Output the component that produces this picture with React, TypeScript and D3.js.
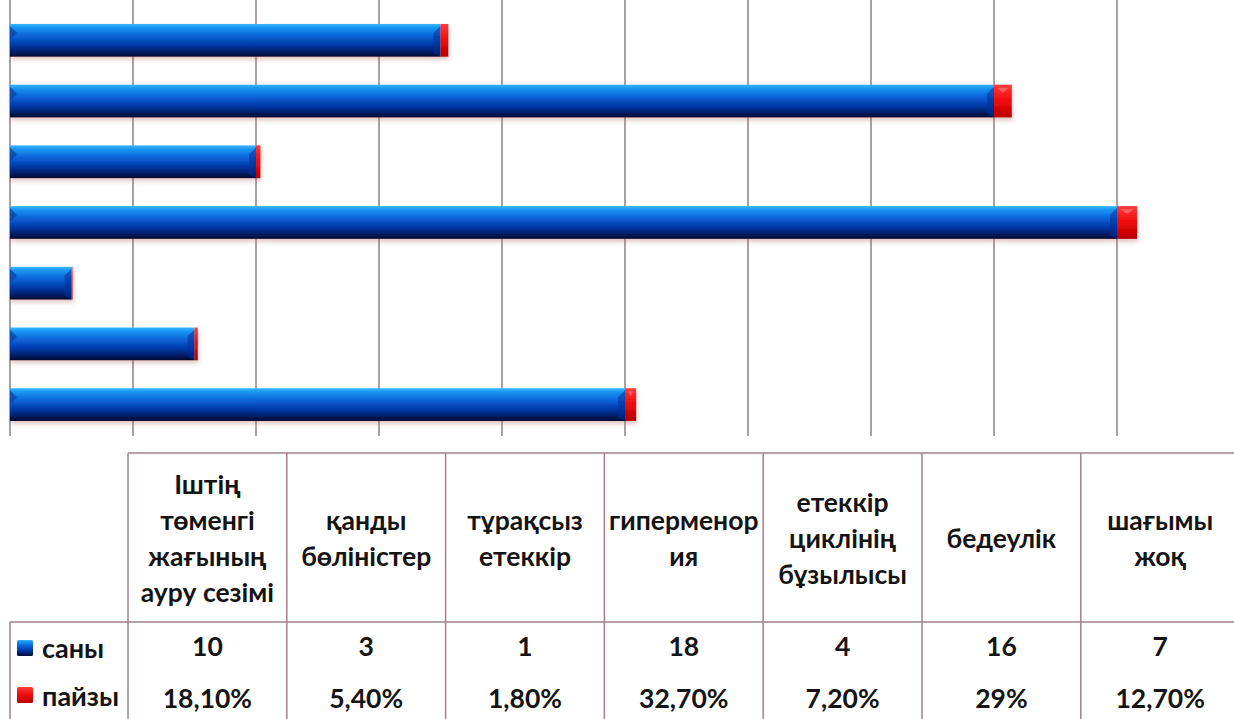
import React from "react";
import * as d3 from "d3";

const categories = [
  "Іштің төменгі жағының ауру сезімі",
  "қанды бөліністер",
  "тұрақсыз етеккір",
  "гиперменорея",
  "етеккір циклінің бұзылысы",
  "бедеулік",
  "шағымы жоқ",
];
const headerLines = [
  ["Іштің", "төменгі", "жағының", "ауру сезімі"],
  ["қанды", "бөліністер"],
  ["тұрақсыз", "етеккір"],
  ["гиперменор", "ия"],
  ["етеккір", "циклінің", "бұзылысы"],
  ["бедеулік"],
  ["шағымы", "жоқ"],
];
const sany = [10, 3, 1, 18, 4, 16, 7];
const payzy = [0.181, 0.054, 0.018, 0.327, 0.072, 0.29, 0.127];
const payzyLabels = ["18,10%", "5,40%", "1,80%", "32,70%", "7,20%", "29%", "12,70%"];
const seriesNames = ["саны", "пайзы"];
const xTicks = [0, 2, 4, 6, 8, 10, 12, 14, 16, 18, 20];

const W = 1234;
const H = 719;
const FONT = "Lato, 'Open Sans', sans-serif";

export default function App() {
  const x = d3.scaleLinear().domain([0, 20]).range([10, 1240]);
  const y = d3
    .scaleBand<string>()
    .domain([...categories].reverse())
    .range([10, 435])
    .paddingInner(0.46)
    .paddingOuter(0.23);

  const tableLeft = 128;
  const tableTop = 453;
  const headerBottom = 622;
  const colW = 158.8;
  const col = d3
    .scaleBand<string>()
    .domain(categories)
    .range([tableLeft, tableLeft + colW * categories.length]);
  const lineColor = "#a3808a";
  const gridColor = "#8c8284";
  const textColor = "#141414";

  const bh = y.bandwidth();

  return (
    <svg
      width={W}
      height={H}
      style={{ position: "absolute", left: 0, top: 0, background: "#fff" }}
      fontFamily={FONT}
    >
      <defs>
        <linearGradient id="blueG" x1="0" y1="0" x2="0" y2="1">
          <stop offset="0%" stopColor="#35b6ff" />
          <stop offset="12%" stopColor="#1a94f2" />
          <stop offset="38%" stopColor="#0860d6" />
          <stop offset="65%" stopColor="#0438a6" />
          <stop offset="85%" stopColor="#021d66" />
          <stop offset="100%" stopColor="#000a2e" />
        </linearGradient>
        <linearGradient id="redG" x1="0" y1="0" x2="0" y2="1">
          <stop offset="0%" stopColor="#ff3a3a" />
          <stop offset="50%" stopColor="#ee0a0a" />
          <stop offset="100%" stopColor="#b80000" />
        </linearGradient>
        <filter id="shadow" x="-5%" y="-30%" width="110%" height="180%">
          <feDropShadow dx="1" dy="3" stdDeviation="2" floodColor="#b06060" floodOpacity="0.35" />
        </filter>
      </defs>
      <rect x={0} y={0} width={W} height={H} fill="#fff" />

      {/* gridlines */}
      {xTicks.map((t) => (
        <line
          key={t}
          x1={x(t)}
          x2={x(t)}
          y1={0}
          y2={436}
          stroke={gridColor}
          strokeWidth={1.5}
        />
      ))}

      {/* bars */}
      {categories.map((c, i) => {
        const y0 = y(c)!;
        const xb0 = x(0);
        const xb1 = x(sany[i]);
        const xr1 = x(sany[i] + payzy[i]);
        return (
          <g key={c} filter="url(#shadow)">
            <rect x={xb0} y={y0} width={xb1 - xb0} height={bh} fill="url(#blueG)" />
            <polygon
              points={`${xb0},${y0 + 2} ${xb0 + 7},${y0 + 9} ${xb0},${y0 + 16}`}
              fill="#0a3f9e"
              opacity={0.7}
            />
            <polygon
              points={`${xb1},${y0 + 2} ${xb1 - 7},${y0 + 9} ${xb1 - 7},${y0 + bh - 4} ${xb1},${y0 + bh}`}
              fill="#06309a"
              opacity={0.55}
            />
            <rect x={xb1} y={y0} width={xr1 - xb1} height={bh} fill="url(#redG)" />
            {xr1 - xb1 > 8 && (
              <polygon
                points={`${xb1 + 3},${y0 + 3} ${xr1 - 3},${y0 + 3} ${(xb1 + xr1) / 2},${y0 + 8}`}
                fill="#ff8080"
                opacity={0.6}
              />
            )}
          </g>
        );
      })}

      {/* table lines */}
      <line x1={tableLeft} x2={W} y1={tableTop} y2={tableTop} stroke={lineColor} strokeWidth={1.5} />
      <line x1={10} x2={W} y1={headerBottom} y2={headerBottom} stroke={lineColor} strokeWidth={1.5} />
      <line x1={10} x2={10} y1={headerBottom} y2={H} stroke={lineColor} strokeWidth={1.5} />
      {categories.map((c) => (
        <line
          key={c}
          x1={col(c)!}
          x2={col(c)!}
          y1={tableTop}
          y2={H}
          stroke={lineColor}
          strokeWidth={1.5}
        />
      ))}

      {/* header texts */}
      {categories.map((c, i) => {
        const lines = headerLines[i];
        const pitch = 36;
        const cx = col(c)! + col.bandwidth() / 2;
        const mid = 539;
        return (
          <text
            key={c}
            x={cx}
            textAnchor="middle"
            fontSize={26.5}
            fontWeight={700}
            fill={textColor}
          >
            {lines.map((l, k) => (
              <tspan key={k} x={cx} y={mid + (k - (lines.length - 1) / 2) * pitch + 9}>
                {l}
              </tspan>
            ))}
          </text>
        );
      })}

      {/* legend keys and row labels */}
      <rect x={17} y={640} width={16} height={16} fill="url(#blueG)" rx={1.5} />
      <rect x={17} y={687} width={16} height={16} fill="url(#redG)" rx={1.5} />
      <text x={42} y={658} fontSize={27} fontWeight={700} fill={textColor}>
        {seriesNames[0]}
      </text>
      <text x={42} y={706} fontSize={27} fontWeight={700} fill={textColor}>
        {seriesNames[1]}
      </text>

      {/* values */}
      {categories.map((c, i) => {
        const cx = col(c)! + col.bandwidth() / 2;
        return (
          <g key={c}>
            <text x={cx} y={656} textAnchor="middle" fontSize={26.5} fontWeight={700} fill={textColor}>
              {sany[i]}
            </text>
            <text x={cx} y={708} textAnchor="middle" fontSize={26.5} fontWeight={700} fill={textColor}>
              {payzyLabels[i]}
            </text>
          </g>
        );
      })}
    </svg>
  );
}
